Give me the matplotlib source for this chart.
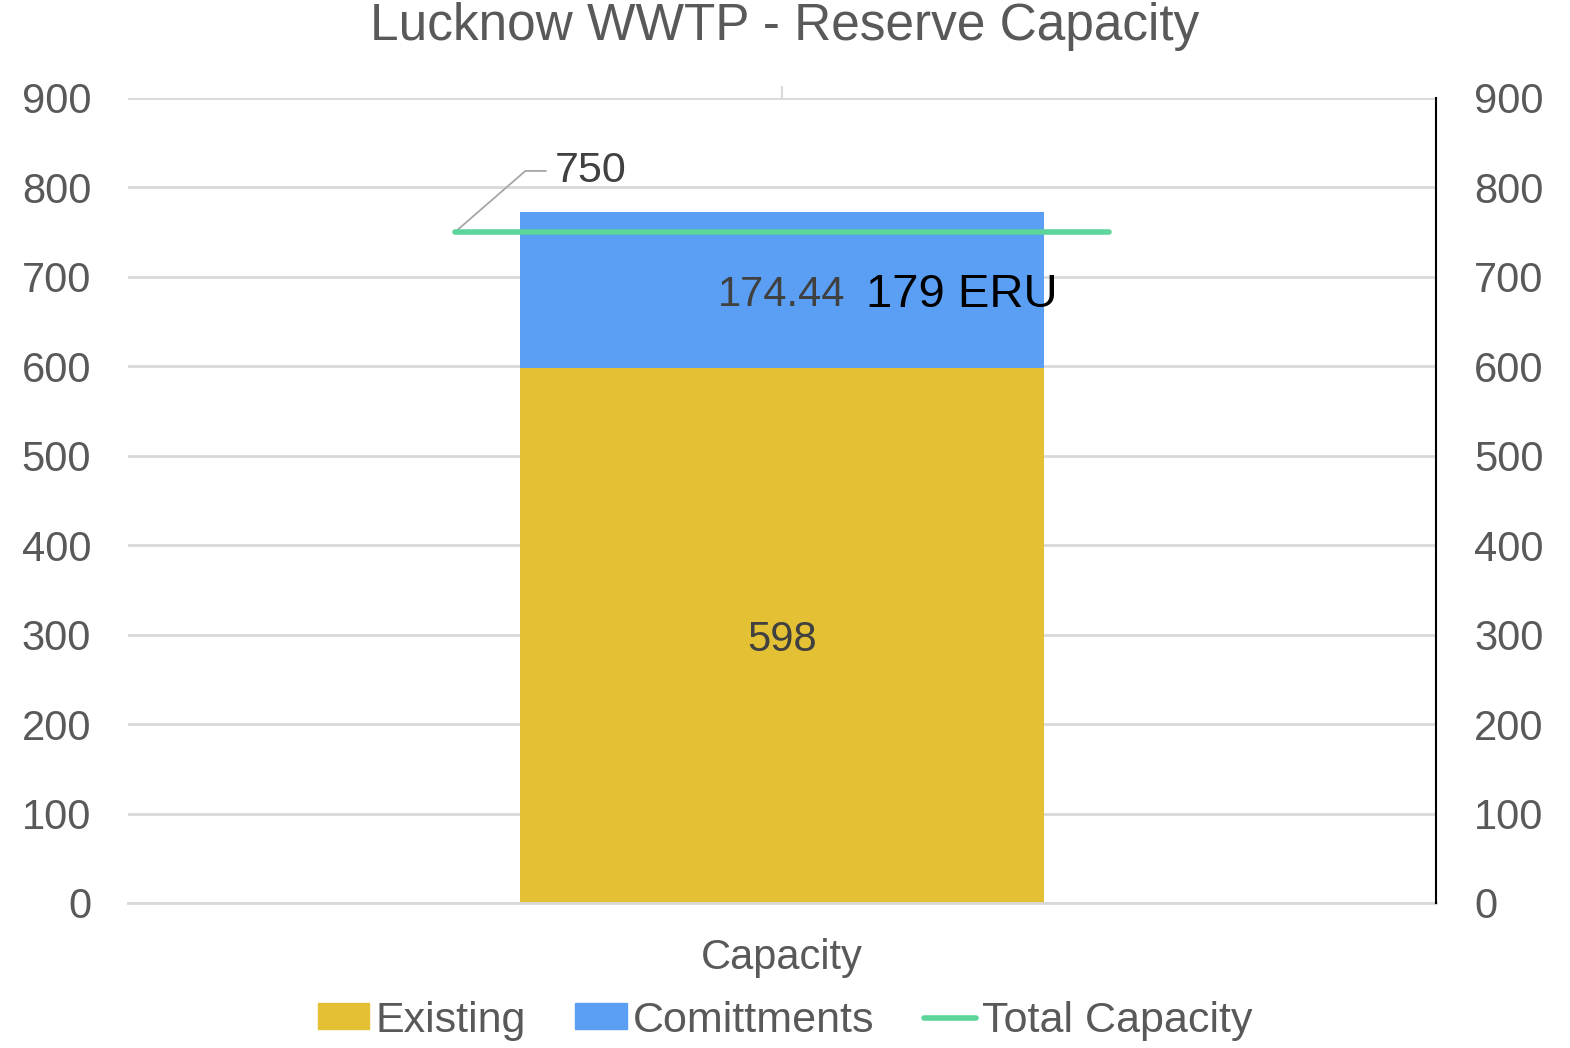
import matplotlib
matplotlib.use("Agg")
import matplotlib.pyplot as plt
from matplotlib.patches import Patch
from matplotlib.lines import Line2D

plt.rcParams['font.family'] = ['Liberation Sans', 'DejaVu Sans']

categories = ["Capacity"]
existing = [598]
commitments = [174.44]
total_capacity = [750]
yticks = [0, 100, 200, 300, 400, 500, 600, 700, 800, 900]

grey = "#595959"
grid_c = "#D9D9D9"
c_exist = "#E3C034"
c_comm = "#5B9FF5"
c_total = "#5CD59A"

fig = plt.figure(figsize=(15.7, 10.48), dpi=100)
ax = fig.add_axes([0.0815, 0.1384, 0.8331, 0.7681])

x = list(range(len(categories)))
ax.bar(x, existing, width=0.4, color=c_exist, zorder=2)
ax.bar(x, commitments, width=0.4, bottom=existing, color=c_comm, zorder=2)

ax.set_xlim(-0.5, 0.5)
ax.set_ylim(0, 900)
ax.set_yticks(yticks)
ax.set_xticks(x)
ax.set_xticklabels(categories)
ax.grid(axis='y', color=grid_c, linewidth=2, zorder=0)
for s in ['left', 'right', 'top']:
    ax.spines[s].set_visible(False)
ax.spines['bottom'].set_color(grid_c)
ax.spines['bottom'].set_linewidth(2)

# data labels
for i in x:
    ax.text(i, existing[i] / 2, f"{existing[i]}", ha='center', va='center_baseline',
            fontsize=30, color="#404040", zorder=3)
    ax.text(i, existing[i] + commitments[i] / 2, f"{commitments[i]:.2f}",
            ha='center', va='center_baseline', fontsize=30, color="#404040", zorder=3)
ax.text(0.1376, existing[0] + commitments[0] / 2, "179 ERU", ha='center',
        va='center_baseline', fontsize=34, color='black', zorder=3)

# secondary axis with total capacity line
ax2 = ax.twinx()
ax2.set_ylim(0, 900)
ax2.set_yticks(yticks)
for s in ['left', 'top', 'bottom']:
    ax2.spines[s].set_visible(False)
ax2.spines['right'].set_color('black')
ax2.spines['right'].set_linewidth(1.5)
ax2.tick_params(axis='y', left=False, right=False, labelsize=30, labelcolor=grey, pad=24)
ax2.plot([-0.25, 0.25], [total_capacity[0]] * 2, color=c_total, linewidth=4,
         solid_capstyle='round', zorder=4)
ax2.annotate(f"{total_capacity[0]}", xy=(-0.25, total_capacity[0]),
             xytext=(-0.174, 823.5), ha='left', va='center_baseline', fontsize=31,
             color="#404040",
             arrowprops=dict(arrowstyle='-', color='#A6A6A6', lw=1.3,
                             shrinkA=4, shrinkB=0,
                             connectionstyle="angle,angleA=0,angleB=41,rad=0"))

# twinx resets left ticks on ax, so set them afterwards
ax.tick_params(axis='y', left=False, right=False, labelsize=30, labelcolor=grey, pad=23)
ax.tick_params(axis='x', bottom=False, top=True, labeltop=False, length=9,
               color=grid_c, width=1.5, labelsize=30, labelcolor=grey, pad=16)

fig.suptitle("Lucknow WWTP - Reserve Capacity", fontsize=37, color=grey, y=0.998)

handles = [Patch(color=c_exist), Patch(color=c_comm),
           Line2D([], [], color=c_total, linewidth=4, solid_capstyle='round')]
fig.legend(handles, ["Existing", "Comittments", "Total Capacity"],
           loc='lower center', bbox_to_anchor=(0.5, -0.03), ncol=3,
           frameon=False, fontsize=31, labelcolor=grey, handlelength=1.2,
           handleheight=0.55, handletextpad=0.14, columnspacing=1.15)

fig.savefig("out.png", dpi=100)
